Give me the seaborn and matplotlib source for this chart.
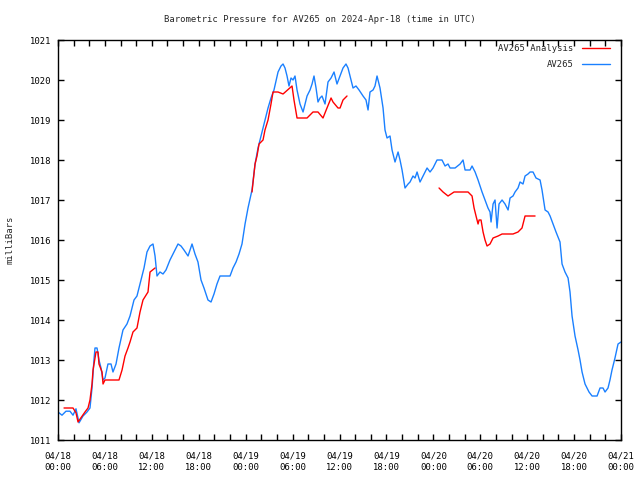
import numpy as np
import pandas as pd
import seaborn as sns
import matplotlib
matplotlib.use("Agg")
import matplotlib.pyplot as plt
from matplotlib.lines import Line2D

# ---------------- data ----------------
title = "Barometric Pressure for AV265 on 2024-Apr-18 (time in UTC)"
y_label = "milliBars"
series_names = ["AV265 Analysis", "AV265"]

x_tick_hours = [0, 6, 12, 18, 24, 30, 36, 42, 48, 54, 60, 66, 72]
x_tick_labels = ["04/18\n00:00", "04/18\n06:00", "04/18\n12:00", "04/18\n18:00",
                 "04/19\n00:00", "04/19\n06:00", "04/19\n12:00", "04/19\n18:00",
                 "04/20\n00:00", "04/20\n06:00", "04/20\n12:00", "04/20\n18:00",
                 "04/21\n00:00"]
y_ticks = [1011, 1012, 1013, 1014, 1015, 1016, 1017, 1018, 1019, 1020, 1021]

# AV265 observed (hours since 2024-04-18 00:00 UTC, mbar)
obs_hours = [0, 0.51, 1.02, 1.53, 1.92, 2.30, 2.69, 3.20, 3.71, 4.09, 4.35, 4.60, 4.73,
             4.99, 5.24, 5.50, 5.76, 6.01, 6.39, 6.78, 7.03, 7.42, 7.80, 8.31, 8.82, 9.21,
             9.72, 10.10, 10.61, 11.00, 11.38, 11.77, 12.15, 12.41, 12.66, 13.04, 13.43,
             13.81, 14.32, 14.84, 15.35, 15.73, 16.11, 16.63, 17.14, 17.52, 17.90, 18.29,
             18.67, 19.18, 19.57, 19.95, 20.33, 20.72, 21.36, 22.00, 22.38, 22.77, 23.15,
             23.53, 23.92, 24.30, 24.81, 25.20, 25.58, 26.09, 26.47, 26.86, 27.24, 27.62,
             28.14, 28.52, 28.78, 29.03, 29.29, 29.54, 29.80, 30.06, 30.31, 30.57, 30.95,
             31.34, 31.59, 31.85, 32.23, 32.49, 32.74, 33.00, 33.25, 33.51, 33.76, 34.15,
             34.53, 34.92, 35.30, 35.68, 36.07, 36.45, 36.83, 37.09, 37.35, 37.73, 38.11,
             38.50, 39.01, 39.39, 39.65, 39.90, 40.29, 40.54, 40.80, 41.18, 41.57, 41.82,
             42.08, 42.46, 42.72, 43.10, 43.49, 43.74, 44.00, 44.38, 44.77, 45.02, 45.40,
             45.66, 45.92, 46.30, 46.68, 47.20, 47.58, 47.96, 48.47, 49.11, 49.50, 49.88,
             50.14, 50.78, 51.42, 51.80, 52.06, 52.70, 52.95, 53.34, 53.72, 53.98, 54.23,
             54.61, 54.99, 55.25, 55.38, 55.64, 55.89, 56.15, 56.40, 56.79, 57.17, 57.56,
             57.81, 58.19, 58.45, 58.83, 59.09, 59.47, 59.73, 60.11, 60.37, 60.75, 61.13,
             61.65, 61.90, 62.29, 62.67, 62.93, 63.31, 63.69, 64.20, 64.46, 64.84, 65.23,
             65.48, 65.74, 66.12, 66.51, 66.76, 67.02, 67.40, 67.66, 67.91, 68.30, 68.94,
             69.32, 69.70, 69.96, 70.34, 70.59, 70.85, 71.23, 71.62, 72.00]
obs_mbar = [1011.70, 1011.62, 1011.72, 1011.72, 1011.62, 1011.78, 1011.43, 1011.60, 1011.70,
            1011.80, 1012.30, 1013.00, 1013.30, 1013.30, 1013.00, 1012.80, 1012.50, 1012.55,
            1012.90, 1012.90, 1012.70, 1012.90, 1013.30, 1013.75, 1013.90, 1014.10, 1014.50,
            1014.60, 1015.00, 1015.30, 1015.70, 1015.85, 1015.90, 1015.60, 1015.10, 1015.20,
            1015.15, 1015.25, 1015.50, 1015.70, 1015.90, 1015.85, 1015.75, 1015.60, 1015.90,
            1015.65, 1015.45, 1015.00, 1014.80, 1014.50, 1014.45, 1014.65, 1014.90, 1015.10,
            1015.10, 1015.10, 1015.30, 1015.45, 1015.65, 1015.90, 1016.40, 1016.80, 1017.25,
            1017.90, 1018.30, 1018.70, 1019.00, 1019.30, 1019.55, 1019.75, 1020.20, 1020.35,
            1020.40, 1020.30, 1020.10, 1019.85, 1020.05, 1020.00, 1020.10, 1019.75, 1019.40,
            1019.20, 1019.40, 1019.60, 1019.75, 1019.90, 1020.10, 1019.80, 1019.45, 1019.55,
            1019.60, 1019.40, 1019.95, 1020.05, 1020.20, 1019.90, 1020.10, 1020.30, 1020.40,
            1020.30, 1020.10, 1019.80, 1019.85, 1019.75, 1019.60, 1019.50, 1019.25, 1019.70,
            1019.75, 1019.85, 1020.10, 1019.80, 1019.30, 1018.75, 1018.55, 1018.60, 1018.25,
            1017.95, 1018.20, 1018.00, 1017.75, 1017.30, 1017.40, 1017.45, 1017.60, 1017.55,
            1017.70, 1017.45, 1017.60, 1017.80, 1017.70, 1017.80, 1018.00, 1018.00, 1017.85,
            1017.90, 1017.80, 1017.80, 1017.90, 1018.00, 1017.75, 1017.75, 1017.85, 1017.70,
            1017.50, 1017.35, 1017.20, 1017.00, 1016.80, 1016.70, 1016.45, 1016.90, 1017.00,
            1016.30, 1016.90, 1017.00, 1016.90, 1016.75, 1017.05, 1017.10, 1017.20, 1017.30,
            1017.45, 1017.40, 1017.60, 1017.65, 1017.70, 1017.70, 1017.55, 1017.50, 1017.25,
            1016.75, 1016.70, 1016.60, 1016.40, 1016.20, 1015.95, 1015.40, 1015.20, 1015.05,
            1014.70, 1014.10, 1013.60, 1013.25, 1013.00, 1012.70, 1012.40, 1012.30, 1012.20,
            1012.10, 1012.10, 1012.30, 1012.30, 1012.20, 1012.30, 1012.50, 1012.75, 1013.05,
            1013.40, 1013.45]

# AV265 Analysis (three separate runs)
ana_run = [1] * 27 + [2] * 25 + [3] * 23
ana_hours = [0.77, 1.92, 2.30, 2.56, 3.45, 3.84, 4.09, 4.35, 4.48, 4.86, 5.12, 5.24, 5.63,
             5.76, 6.01, 7.80, 8.19, 8.57, 8.95, 9.21, 9.59, 10.10, 10.49, 10.87, 11.51,
             11.77, 12.41,
             24.81, 25.20, 25.45, 25.71, 26.22, 26.47, 26.86, 27.24, 27.50, 28.14, 28.78,
             29.93, 30.18, 30.57, 31.85, 32.61, 33.25, 33.89, 34.40, 34.92, 35.17, 35.81,
             36.07, 36.45, 36.96,
             48.73, 49.24, 49.88, 50.65, 52.44, 52.95, 53.21, 53.46, 53.72, 53.85, 54.10,
             54.36, 54.61, 54.87, 55.25, 55.64, 56.28, 56.79, 58.19, 58.83, 59.34, 59.73,
             61.01]
ana_mbar = [1011.80, 1011.80, 1011.68, 1011.45, 1011.70, 1011.80, 1012.00, 1012.40, 1012.75,
            1013.20, 1013.20, 1012.90, 1012.70, 1012.40, 1012.50, 1012.50, 1012.75, 1013.10,
            1013.30, 1013.45, 1013.70, 1013.80, 1014.20, 1014.50, 1014.70, 1015.20, 1015.30,
            1017.20, 1017.90, 1018.10, 1018.40, 1018.50, 1018.75, 1019.00, 1019.40, 1019.70,
            1019.70, 1019.65, 1019.85, 1019.50, 1019.05, 1019.05, 1019.20, 1019.20, 1019.05,
            1019.30, 1019.55, 1019.45, 1019.30, 1019.30, 1019.50, 1019.60,
            1017.30, 1017.20, 1017.10, 1017.20, 1017.20, 1017.10, 1016.80, 1016.60, 1016.40,
            1016.50, 1016.50, 1016.20, 1016.00, 1015.85, 1015.90, 1016.05, 1016.10, 1016.15,
            1016.15, 1016.20, 1016.30, 1016.60, 1016.60]

# ---------------- plot ----------------
sns.set_style("ticks")
plt.rcParams["font.family"] = ["DejaVu Sans Mono"]
plt.rcParams["font.size"] = 6.4

red = "#ff0000"
blue = "#1a80ff"

obs_df = pd.DataFrame({"hours": obs_hours, "mbar": obs_mbar})
ana_df = pd.DataFrame({"hours": ana_hours, "mbar": ana_mbar, "run": ana_run})

fig = plt.figure(figsize=(6.4, 4.8), dpi=100)
ax = fig.add_axes([58 / 640, 1 - 440 / 480, 563 / 640, 400 / 480])

sns.lineplot(data=obs_df, x="hours", y="mbar", ax=ax, color=blue, lw=1.0,
             estimator=None, sort=False, legend=False)
sns.lineplot(data=ana_df, x="hours", y="mbar", units="run", ax=ax, color=red, lw=1.0,
             estimator=None, sort=False, legend=False)

ax.set_xlim(0, 72)
ax.set_ylim(1011, 1021)
ax.set_xticks(x_tick_hours)
ax.set_xticklabels(x_tick_labels)
ax.set_xticks(np.arange(0, 73, 2), minor=True)
ax.set_yticks(y_ticks)
ax.set_yticklabels([str(v) for v in y_ticks])
for lbl in ax.get_xticklabels():
    lbl.set_linespacing(1.4)

ax.tick_params(axis="both", which="both", direction="in", top=True, right=True,
               length=4, width=1, colors="black", labelsize=6.4)
ax.tick_params(axis="x", which="major", pad=8)
ax.tick_params(axis="y", which="major", pad=5)
for s in ax.spines.values():
    s.set_visible(True)
    s.set_linewidth(1)
    s.set_color("black")

ax.set_xlabel("")
ax.set_ylabel(y_label, fontsize=6.4)
ax.yaxis.set_label_coords(-0.078, 0.5)
fig.text(0.5, 1 - 19 / 480, title, ha="center", va="center", fontsize=6.4)

handles = [Line2D([], [], color=red, lw=1), Line2D([], [], color=blue, lw=1)]
ax.legend(handles, series_names, loc="upper right", frameon=False, markerfirst=False,
          bbox_to_anchor=(1 - 11 / 563, 1 - 4 / 400), borderaxespad=0, borderpad=0,
          handlelength=3.2, handletextpad=0.9, labelspacing=0.75, fontsize=6.4)

fig.savefig("out.png", dpi=100)
